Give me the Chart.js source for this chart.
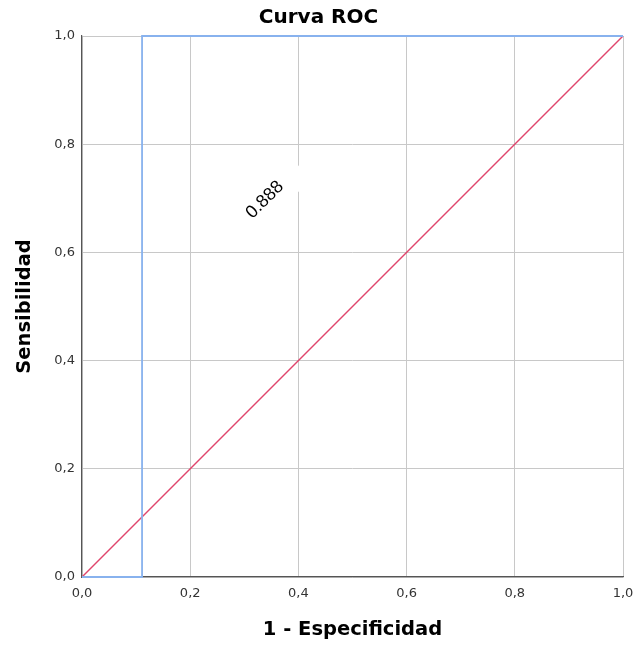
<!DOCTYPE html>
<html>
<head>
<meta charset="utf-8">
<script src="https://cdn.jsdelivr.net/npm/chart.js@4/dist/chart.umd.min.js"></script>
<style>
  html, body { margin: 0; padding: 0; background: #fff; }
  #wrap { width: 637px; height: 650px; }
</style>
</head>
<body>
<div id="wrap"><canvas id="c" width="637" height="650"></canvas></div>
<script>
// ---- data ----
const rocX = [0, 0.111, 0.111, 1];
const rocY = [0, 0, 1, 1];
const refX = [0, 1];
const refY = [0, 1];
const tickValues = [0, 0.2, 0.4, 0.6, 0.8, 1.0];
const chartTitle = "Curva ROC";
const aucLabel = "0.888";
const aucPos = [0.338, 0.697];

const toPts = (xs, ys) => xs.map((x, i) => ({x: x, y: ys[i]}));
const fmt = v => v.toFixed(1).replace('.', ',');

const aucPlugin = {
  id: 'aucLabel',
  afterDatasetsDraw(chart) {
    const {ctx, scales} = chart;
    const px = scales.x.getPixelForValue(aucPos[0]);
    const py = scales.y.getPixelForValue(aucPos[1]);
    ctx.save();
    ctx.translate(px, py);
    ctx.rotate(-Math.PI / 4);
    ctx.fillStyle = '#ffffff';
    ctx.fillRect(-48, -18, 96, 36);
    ctx.fillStyle = '#000000';
    ctx.font = '18px "Liberation Sans", Arial, sans-serif';
    ctx.textAlign = 'center';
    ctx.textBaseline = 'middle';
    ctx.fillText(aucLabel, 0, 0);
    ctx.restore();
  }
};

const titlePlugin = {
  id: 'pageTitle',
  afterDraw(chart) {
    const {ctx} = chart;
    ctx.save();
    ctx.fillStyle = '#000';
    ctx.font = 'bold 20px "DejaVu Sans", sans-serif';
    ctx.textAlign = 'center';
    ctx.textBaseline = 'middle';
    ctx.fillText(chartTitle, chart.width / 2, 18);
    ctx.restore();
  }
};

new Chart(document.getElementById('c'), {
  type: 'scatter',
  data: {
    datasets: [
      {
        data: toPts(rocX, rocY),
        showLine: true,
        borderColor: '#88b2ee',
        borderWidth: 1.8,
        pointRadius: 0,
        fill: false,
        clip: false,
        tension: 0
      },
      {
        data: toPts(refX, refY),
        showLine: true,
        borderColor: '#e0456c',
        borderWidth: 1.5,
        pointRadius: 0,
        fill: false,
        clip: false,
        tension: 0
      }
    ]
  },
  options: {
    responsive: false,
    animation: false,
    devicePixelRatio: 1,
    layout: { padding: { top: 36, right: 14, left: 0, bottom: 0 } },
    plugins: {
      legend: { display: false },
      tooltip: { enabled: false },
      title: { display: false }
    },
    scales: {
      x: {
        type: 'linear',
        min: 0, max: 1,
        afterBuildTicks(scale) { scale.ticks = tickValues.map(v => ({value: v})); },
        afterFit(scale) { scale.height = 73; scale.paddingRight = 0; scale.paddingLeft = 0; },
        ticks: {
          padding: 9,
          color: '#333',
          font: { family: '"DejaVu Sans", sans-serif', size: 13 },
          callback: v => fmt(v),
          maxRotation: 0
        },
        grid: { color: '#c8c8c8', lineWidth: 1, drawTicks: false },
        border: { color: '#555', width: 1.2 },
        title: {
          display: true,
          text: '1 - Especificidad',
          color: '#000',
          font: { family: '"DejaVu Sans", sans-serif', size: 19.5, weight: 'bold' },
          padding: { top: 0, bottom: 8 }
        }
      },
      y: {
        type: 'linear',
        min: 0, max: 1,
        afterBuildTicks(scale) { scale.ticks = tickValues.map(v => ({value: v})); },
        afterFit(scale) { scale.width = 82; scale.paddingTop = 0; scale.paddingBottom = 0; },
        ticks: {
          padding: 7,
          color: '#333',
          font: { family: '"DejaVu Sans", sans-serif', size: 13 },
          callback: v => fmt(v)
        },
        grid: { color: '#c8c8c8', lineWidth: 1, drawTicks: false },
        border: { color: '#555', width: 1.2 },
        title: {
          display: true,
          text: 'Sensibilidad',
          color: '#000',
          font: { family: '"DejaVu Sans", sans-serif', size: 19.5, weight: 'bold' },
          padding: { top: 13, bottom: 0 }
        }
      }
    }
  },
  plugins: [aucPlugin, titlePlugin]
});
</script>
</body>
</html>
